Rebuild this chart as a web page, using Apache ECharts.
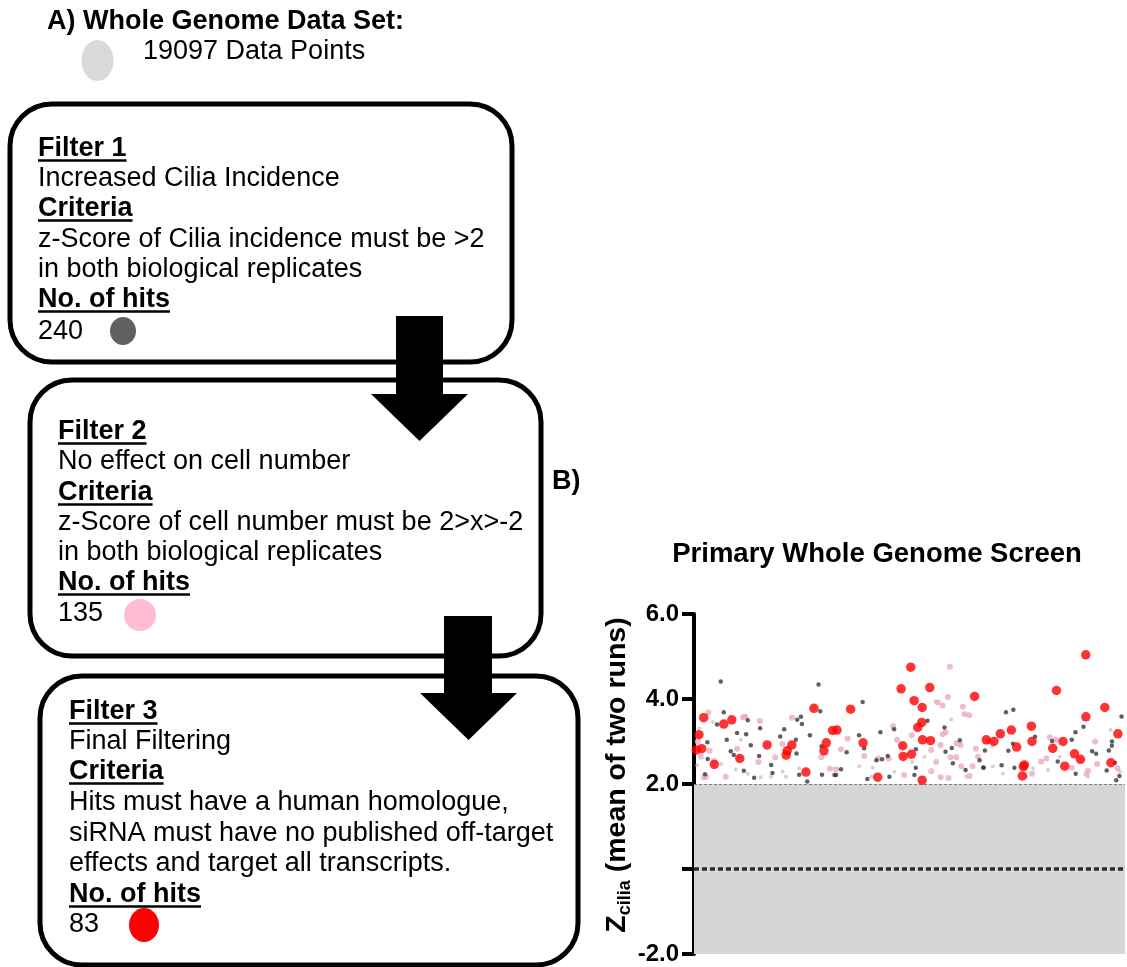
<!DOCTYPE html>
<html><head><meta charset="utf-8">
<script src="https://cdn.jsdelivr.net/npm/echarts@6/dist/echarts.min.js"></script>
<style>html,body{margin:0;padding:0;background:#fff}#c{width:1127px;height:967px}</style>
</head><body><div id="c"></div>
<script>
const FONT = '"Liberation Sans", Arial, Helvetica, sans-serif';

// ---------- Panel A (flow chart) text ----------
const headingA = 'A) Whole Genome Data Set:';
const totalLabel = '19097 Data Points';
const panelB = 'B)';
const filter1Lines = ['Filter 1', 'Increased Cilia Incidence', 'Criteria', 'z-Score of Cilia incidence must be >2', 'in both biological replicates', 'No. of hits', '240'];
const filter2Lines = ['Filter 2', 'No effect on cell number', 'Criteria', 'z-Score of cell number must be 2>x>-2', 'in both biological replicates', 'No. of hits', '135'];
const filter3Lines = ['Filter 3', 'Final Filtering', 'Criteria', 'Hits must have a human homologue,', 'siRNA must have no published off-target', 'effects and target all transcripts.', 'No. of hits', '83'];
const headingWords = ['Filter 1', 'Filter 2', 'Filter 3', 'Criteria', 'No. of hits'];

// ---------- Panel B (scatter) ----------
const chartTitle = 'Primary Whole Genome Screen';
const yTickValues = [-2, 0, 2, 4, 6];
const yTickLabels = ['-2.0', '', '2.0', '4.0', '6.0'];
const nGenes = 19097;
const cloudX = [0, 19097];     // extent of the dense grey cloud (screen order)
const cloudY = [-2, 2];        // z range of the dense grey cloud
const thresholdLine = 2;
const zeroLine = 0;

// [screen index, Z_cilia]
const redHits = [[431,3.56],[222,3.16],[102,2.80],[342,2.83],[1319,3.41],[1674,3.51],[901,2.46],[2029,2.60],[3241,2.92],[4129,2.78],[4085,2.68],[4338,2.92],[4959,2.28],[5315,3.78],[5759,2.78],[5861,2.97],[6141,3.26],[6336,3.27],[6940,3.76],[7490,2.97],[8139,2.16],[9177,4.24],[9604,4.75],[9249,2.90],[9266,2.65],[9755,3.96],[10110,3.80],[10092,3.45],[9915,3.33],[10123,3.04],[10478,3.02],[9635,2.70],[10110,2.09],[10447,4.27],[12432,4.06],[12951,3.04],[13289,3.00],[13573,3.18],[14061,3.27],[14297,2.87],[14639,2.45],[14594,2.41],[14550,2.19],[14949,3.36],[14976,3.00],[16059,4.20],[15895,2.84],[16353,3.00],[16428,2.42],[16859,2.71],[17125,2.58],[17360,5.04],[17365,3.58],[18204,3.80],[18470,2.50],[18781,3.18]];

const darkHits = [[1185,4.41],[5519,4.34],[1319,3.69],[1021,3.40],[2384,3.50],[2930,3.31],[1909,3.20],[2309,3.17],[1452,3.04],[1629,2.77],[1763,2.68],[2517,2.91],[591,2.98],[608,2.59],[488,2.23],[3996,3.29],[3818,3.12],[4573,3.51],[4737,3.58],[4782,3.41],[4515,3.04],[4542,2.72],[2886,2.66],[2207,2.31],[3419,2.45],[3476,2.26],[2664,2.15],[5137,3.15],[5594,3.71],[5652,2.89],[5670,2.22],[6229,2.21],[4662,2.22],[5017,2.06],[7473,3.93],[8258,3.22],[8867,3.29],[7313,3.15],[7535,2.84],[6762,2.75],[6513,2.35],[6291,2.21],[7681,2.12],[8081,2.56],[8583,2.66],[8334,2.58],[8658,2.17],[10345,3.49],[11100,3.33],[11424,2.85],[11144,2.76],[11779,3.03],[9826,2.38],[9768,2.21],[9830,2.82],[12032,2.33],[12654,2.56],[12818,2.39],[11469,2.49],[13822,3.69],[14150,3.75],[12889,2.79],[12832,2.38],[13631,2.44],[13928,2.78],[14195,2.38],[14133,2.95],[15109,3.11],[15864,3.01],[16117,2.53],[16739,3.04],[16903,3.22],[17258,3.35],[17640,2.77],[17818,2.71],[18382,2.79],[18515,2.90],[18945,3.59],[18648,2.50],[16910,2.24],[18284,2.32],[18848,2.19],[18706,2.09],[18520,3.00]];

const pinkHits = [[635,3.68],[2176,3.57],[2264,3.58],[2917,3.48],[4338,3.56],[164,3.00],[697,2.78],[311,2.64],[1909,2.83],[2855,2.52],[3596,2.63],[431,2.16],[546,2.17],[1407,2.17],[3921,2.94],[6025,2.36],[6291,2.35],[5639,2.63],[888,2.54],[11335,4.76],[6807,3.07],[6513,2.82],[7548,2.66],[8822,3.36],[8156,2.60],[8627,2.60],[9311,2.21],[10803,3.92],[11247,4.05],[11011,3.85],[11988,3.65],[12197,3.62],[11913,3.82],[11020,3.17],[11144,3.21],[10922,2.92],[10509,2.80],[11810,2.92],[11633,2.96],[12490,2.83],[11366,2.63],[11619,2.63],[10515,2.30],[10930,2.16],[11278,2.14],[11841,2.42],[12343,2.42],[12579,2.64],[12210,2.19],[10731,2.52],[9648,3.15],[9000,3.04],[15762,3.10],[16042,3.04],[17773,3.00],[15615,2.60],[15376,2.53],[16739,2.38],[17463,2.31],[17392,2.24],[17862,2.47],[14980,2.24],[13040,3.00],[18768,2.37]];

const greyAbove = [[222,3.31],[830,3.46],[147,2.44],[2073,3.04],[2384,2.24],[2961,2.16],[3921,2.29],[4071,2.17],[4662,2.37],[3405,2.17],[1199,2.47],[1851,2.34],[7326,2.42],[7917,2.38],[8880,2.29],[9666,2.52],[11397,3.52],[10700,3.94],[7845,2.17],[10212,2.64],[12063,2.17],[13200,2.88],[13245,2.41],[13689,2.25],[15021,2.37],[15687,2.33],[16206,2.64],[18457,3.27],[17463,2.17],[18870,2.29],[14727,2.17]];

// ---------- helpers ----------
const mctx = document.createElement('canvas').getContext('2d');
function textW(t, font) { mctx.font = font; return mctx.measureText(t).width; }
const FS = 27;
const fBold = 'bold ' + FS + 'px ' + FONT;

function txt(x, y, t, bold, size) {
  const font = (bold ? 'bold ' : '') + (size || FS) + 'px ' + FONT;
  return { type: 'text', x: x, y: y, silent: true,
    style: { text: t, font: font, fill: '#000', align: 'left', verticalAlign: 'middle' } };
}
function block(lines, x, ys) {
  const out = [];
  lines.forEach((t, i) => {
    const isHead = headingWords.indexOf(t) >= 0;
    out.push(txt(x, ys[i] + 1, t, isHead));
    if (isHead) {
      const w = textW(t, fBold);
      out.push({ type: 'line', silent: true, shape: { x1: x, y1: ys[i] + 12.5, x2: x + w, y2: ys[i] + 12.5 },
        style: { stroke: '#000', lineWidth: 2.5 } });
    }
  });
  return out;
}
function box(x, y, w, h) {
  return { type: 'rect', silent: true, shape: { x: x, y: y, width: w, height: h, r: 42 },
    style: { fill: 'none', stroke: '#000', lineWidth: 5 } };
}
function arrow(x0, x1, yTop, yBase, tx0, tx1, yApex) {
  return [
    { type: 'rect', silent: true, shape: { x: x0, y: yTop, width: x1 - x0, height: yBase - yTop + 1 }, style: { fill: '#000' } },
    { type: 'polygon', silent: true, shape: { points: [[tx0, yBase], [tx1, yBase], [(tx0 + tx1) / 2, yApex]] }, style: { fill: '#000' } }
  ];
}
function dot(cx, cy, rx, ry, c) {
  return { type: 'ellipse', silent: true, shape: { cx: cx, cy: cy, rx: rx, ry: ry }, style: { fill: c } };
}

let graphics = [];
graphics.push(txt(47, 22, headingA, true));
graphics.push(txt(143, 52, totalLabel, false));
graphics.push(dot(97.5, 60.5, 16, 20.5, '#d9d9d9'));
graphics.push(txt(552, 482, panelB, true));

graphics.push(box(10, 104, 502, 258));
graphics = graphics.concat(block(filter1Lines, 38, [148, 178, 208, 239, 269, 299, 331]));
graphics.push(dot(123, 331, 13, 14, '#606060'));

graphics.push(box(30, 380, 511, 276));
graphics = graphics.concat(block(filter2Lines, 58, [431, 461, 492, 522, 552, 582, 613]));
graphics.push(dot(140, 615, 16, 16, '#ffbcd4'));

graphics.push(box(40, 676, 538, 289));
graphics = graphics.concat(block(filter3Lines, 69, [711, 741, 771, 802, 833, 863, 894, 924]));
graphics.push(dot(144, 925, 15, 17, '#ff0000'));

graphics = graphics.concat(arrow(396, 443, 316, 394, 371, 468, 441));
graphics = graphics.concat(arrow(444, 492, 616, 693, 420, 517, 740));

graphics.push({ type: 'text', x: 877, y: 554, silent: true,
  style: { text: chartTitle, font: 'bold 27.5px ' + FONT, fill: '#000', align: 'center', verticalAlign: 'middle' } });

// ---------- chart ----------
const chart = echarts.init(document.getElementById('c'), null, { renderer: 'canvas' });
const option = {
  backgroundColor: '#fff',
  animation: false,
  textStyle: { fontFamily: FONT },
  grid: { left: 694, right: 2, top: 614, bottom: 13, containLabel: false, outerBoundsMode: 'none' },
  xAxis: { type: 'value', min: cloudX[0], max: nGenes, show: false },
  yAxis: {
    type: 'value', min: -2, max: 6, interval: 2,
    axisLine: { show: true, lineStyle: { color: '#000', width: 4 } },
    axisTick: { show: true, length: 12, lineStyle: { color: '#000', width: 4 } },
    splitLine: { show: false },
    axisLabel: { margin: 15, color: '#000', fontSize: 24, fontWeight: 'bold', fontFamily: FONT,
      formatter: v => { const i = yTickValues.indexOf(v); return i >= 0 ? yTickLabels[i] : ''; } },
    name: '{z|Z}{s|cilia}{n| (mean of two runs)}',
    nameLocation: 'middle', nameRotate: 90, nameGap: 55,
    nameTextStyle: { padding: [0, 0, 0, 18],
      rich: {
        z: { fontSize: 28.5, fontWeight: 'bold', fontFamily: FONT, color: '#000', lineHeight: 34 },
        s: { fontSize: 18, fontWeight: 'bold', fontFamily: FONT, color: '#000', lineHeight: 18, verticalAlign: 'bottom' },
        n: { fontSize: 28.5, fontWeight: 'bold', fontFamily: FONT, color: '#000', lineHeight: 34 }
      } }
  },
  graphic: graphics,
  series: [
    { type: 'scatter', name: 'cloud', data: [], silent: true, z: 1,
      markArea: { silent: true, itemStyle: { color: '#d6d6d6' },
        data: [[{ coord: [cloudX[0], cloudY[0]] }, { coord: [cloudX[1], cloudY[1]] }]] },
      markLine: { silent: true, symbol: 'none', label: { show: false },
        data: [
          { yAxis: zeroLine, lineStyle: { color: '#2a2a2a', width: 3.5, type: [5, 3] } },
          { yAxis: thresholdLine, lineStyle: { color: '#808080', width: 1.2, type: [3, 2] } }
        ] } },
    { type: 'scatter', name: 'grey', data: greyAbove, symbolSize: 4, silent: true, z: 2, itemStyle: { color: '#c8c8c8' } },
    { type: 'scatter', name: 'pink', data: pinkHits, symbolSize: 6, silent: true, z: 3, itemStyle: { color: '#e8abc3' } },
    { type: 'scatter', name: 'dark', data: darkHits, symbolSize: 4.5, silent: true, z: 4, itemStyle: { color: '#383838' } },
    { type: 'scatter', name: 'red', data: redHits, symbolSize: 9.5, silent: true, z: 5, itemStyle: { color: '#ff0000' } }
  ]
};
chart.setOption(option);
</script>
</body></html>
